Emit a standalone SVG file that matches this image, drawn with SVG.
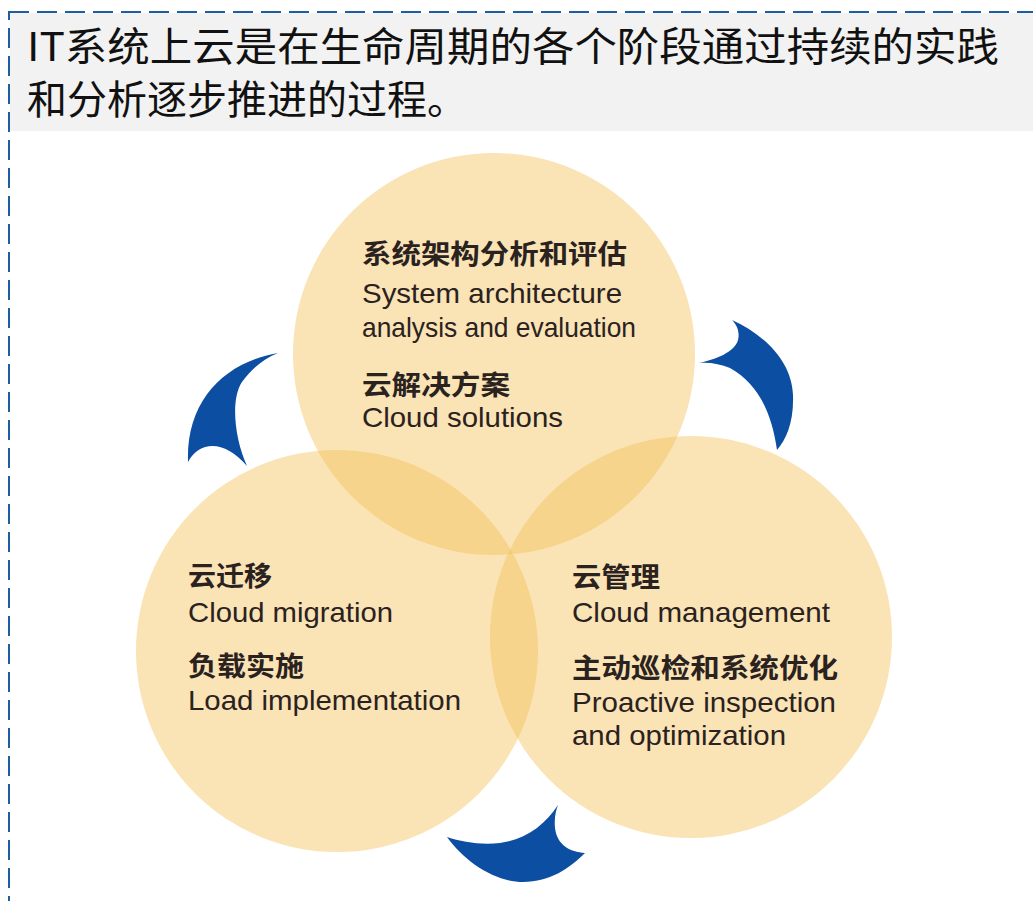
<svg xmlns="http://www.w3.org/2000/svg" width="1033" height="901" viewBox="0 0 1033 901">
<style>
.hd{font-family:"Noto Sans CJK SC","Liberation Sans",sans-serif;font-size:40px;fill:#111;}
.zh{font-family:"Noto Sans CJK SC",sans-serif;font-size:27px;font-weight:bold;fill:#2a221f;}
.en{font-family:"Liberation Sans","Noto Sans CJK SC",sans-serif;font-size:28px;fill:#2a221f;}
.c{fill:#f4c158;fill-opacity:0.45;}
.arrow{fill:#0b4ea2;}
</style>
<rect x="0" y="0" width="1033" height="901" fill="#ffffff"/>
<rect x="10" y="13" width="1023" height="118" fill="#f2f2f2"/>
<rect x="9" y="12" width="1040" height="910" fill="none" stroke="#1f5e9e" stroke-width="2" stroke-dasharray="20 8"/>
<g id="header">
<text class="hd" x="27" y="61" textLength="972" lengthAdjust="spacingAndGlyphs">IT系统上云是在生命周期的各个阶段通过持续的实践</text>
<text class="hd" x="27" y="114">和分析逐步推进的过程。</text>
</g>
<g id="node-top">
<circle class="c" cx="494" cy="354" r="201"/>
<text class="zh" x="362" y="264" textLength="265" lengthAdjust="spacingAndGlyphs">系统架构分析和评估</text>
<text class="en" x="362" y="303" textLength="260" lengthAdjust="spacingAndGlyphs">System architecture</text>
<text class="en" x="362" y="337" textLength="274" lengthAdjust="spacingAndGlyphs">analysis and evaluation</text>
<text class="zh" x="362" y="395" textLength="148" lengthAdjust="spacingAndGlyphs">云解决方案</text>
<text class="en" x="362" y="427" textLength="201" lengthAdjust="spacingAndGlyphs">Cloud solutions</text>
</g>
<g id="node-left">
<circle class="c" cx="337" cy="651" r="201"/>
<text class="zh" x="188" y="586" textLength="84" lengthAdjust="spacingAndGlyphs">云迁移</text>
<text class="en" x="188" y="622" textLength="205" lengthAdjust="spacingAndGlyphs">Cloud migration</text>
<text class="zh" x="188" y="676" textLength="116" lengthAdjust="spacingAndGlyphs">负载实施</text>
<text class="en" x="188" y="710" textLength="273" lengthAdjust="spacingAndGlyphs">Load implementation</text>
</g>
<g id="node-right">
<circle class="c" cx="691" cy="637" r="201"/>
<text class="zh" x="572" y="587" textLength="88" lengthAdjust="spacingAndGlyphs">云管理</text>
<text class="en" x="572" y="622" textLength="258" lengthAdjust="spacingAndGlyphs">Cloud management</text>
<text class="zh" x="572" y="678" textLength="266" lengthAdjust="spacingAndGlyphs">主动巡检和系统优化</text>
<text class="en" x="572" y="712" textLength="264" lengthAdjust="spacingAndGlyphs">Proactive inspection</text>
<text class="en" x="572" y="745" textLength="214" lengthAdjust="spacingAndGlyphs">and optimization</text>
</g>
<g id="connectors">
<path class="arrow" d="M278,353 C225,362 186,400 188,462 C200,440 225,440 247,466 C235,440 230,400 242,382 C252,368 265,358 278,353 Z"/>
<path class="arrow" d="M732,320 C765,335 792,362 793,395 C794,422 786,440 777,450 C772,415 760,385 730,368 C720,364 710,362 698,363 C715,360 735,352 738,340 C740,332 737,325 732,320 Z"/>
<path class="arrow" d="M447,837 C465,862 495,882 523,882 C550,882 570,868 585,853 C570,852 557,845 555,828 C554,818 556,810 558,805 C545,825 525,840 500,843 C480,845 462,842 447,837 Z"/>
</g>
</svg>
